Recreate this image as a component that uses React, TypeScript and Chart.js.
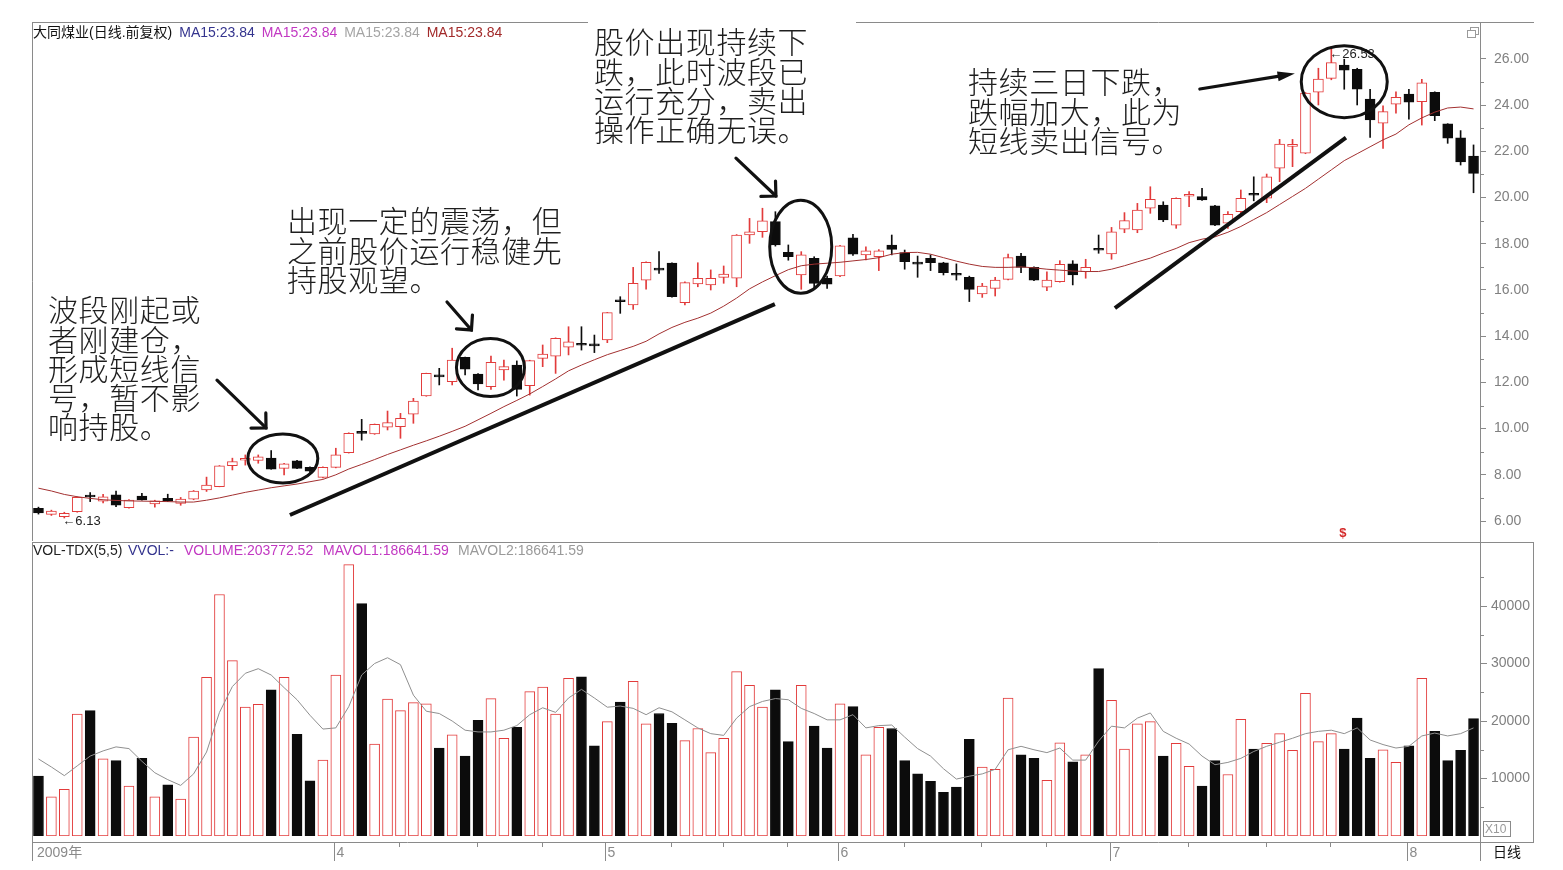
import { useEffect, useRef } from 'react';
import { Chart, registerables } from 'chart.js';

Chart.register(...registerables);

// ---------------- data ----------------
const opens = [6.55, 6.29, 6.19, 6.40, 7.06, 6.86, 7.13, 6.58, 7.08, 6.74,
  6.98, 6.76, 6.94, 7.35, 7.49, 8.40, 8.63, 8.62, 8.72, 8.28,
  8.61, 8.32, 7.89, 8.32, 8.96, 9.81, 9.77, 10.06, 10.08, 10.62,
  11.42, 12.26, 12.03, 13.09, 12.36, 11.82, 12.54, 12.75, 11.86, 13.04,
  13.14, 13.52, 13.63, 13.60, 13.84, 15.51, 15.35, 16.43, 16.88, 17.16,
  15.45, 16.26, 16.22, 16.55, 16.51, 18.38, 18.52, 18.96, 17.63, 16.65,
  17.37, 16.51, 16.61, 18.26, 17.52, 17.44, 17.95, 17.62, 17.14, 17.37,
  17.18, 16.66, 16.55, 15.83, 16.07, 16.46, 17.47, 16.98, 16.12, 16.36,
  17.13, 16.79, 17.74, 17.56, 18.63, 18.60, 19.54, 19.68, 18.81, 20.06,
  20.04, 19.64, 18.89, 19.39, 20.12, 19.97, 21.27, 22.22, 21.92, 24.56,
  25.16, 25.74, 25.55, 24.26, 23.22, 24.04, 24.48, 24.15, 24.56, 23.19,
  22.59, 21.80];
const highs = [6.60, 6.47, 6.38, 7.05, 7.23, 7.15, 7.30, 6.93, 7.20, 6.90,
  7.16, 7.02, 7.32, 7.90, 8.40, 8.72, 8.86, 8.86, 9.05, 8.50,
  8.63, 8.35, 8.35, 9.15, 9.82, 10.40, 10.20, 10.76, 10.66, 11.31,
  12.40, 12.61, 13.48, 13.10, 12.38, 13.14, 12.97, 12.93, 12.96, 13.62,
  13.93, 14.41, 14.41, 14.05, 15.03, 15.71, 16.98, 17.22, 17.66, 17.18,
  16.35, 17.18, 16.87, 17.04, 18.40, 19.10, 19.54, 19.39, 17.95, 17.66,
  17.44, 16.60, 17.93, 18.41, 17.87, 17.75, 18.38, 17.73, 17.47, 17.52,
  17.20, 17.13, 16.60, 16.29, 16.55, 17.56, 17.59, 17.00, 16.79, 17.27,
  17.27, 17.33, 18.38, 18.71, 19.35, 19.75, 20.47, 19.82, 19.99, 20.26,
  20.40, 19.66, 19.39, 20.33, 20.90, 21.02, 22.52, 22.52, 24.55, 25.60,
  26.53, 25.99, 25.60, 24.69, 23.97, 24.58, 24.69, 25.12, 24.58, 23.20,
  22.90, 22.28];
const lows = [6.30, 6.24, 6.13, 6.38, 6.84, 6.78, 6.62, 6.56, 6.90, 6.60,
  6.84, 6.68, 6.92, 7.28, 7.48, 8.21, 8.42, 8.50, 8.24, 8.00,
  8.26, 8.10, 7.87, 8.30, 8.94, 9.50, 9.75, 9.94, 9.58, 10.23,
  11.40, 11.89, 11.89, 12.32, 11.67, 11.70, 12.10, 11.41, 11.45, 12.68,
  12.39, 13.19, 13.40, 13.29, 13.72, 14.99, 15.16, 16.04, 16.72, 15.69,
  15.35, 16.14, 16.00, 16.29, 16.14, 18.02, 18.28, 17.90, 17.29, 16.03,
  16.12, 16.07, 16.58, 17.50, 17.30, 16.84, 17.52, 16.90, 16.55, 16.84,
  16.65, 16.43, 15.50, 15.68, 15.74, 16.44, 16.75, 16.40, 15.97, 16.34,
  16.22, 16.51, 17.59, 17.33, 18.48, 18.48, 19.32, 18.96, 18.67, 19.61,
  19.88, 18.79, 18.67, 19.32, 19.86, 19.78, 20.69, 21.34, 21.90, 24.01,
  25.10, 24.69, 24.01, 22.61, 22.13, 23.65, 23.39, 23.14, 23.33, 22.35,
  21.41, 20.21];
const closes = [6.35, 6.43, 6.33, 7.03, 7.04, 7.05, 6.69, 6.91, 6.91, 6.87,
  6.86, 6.95, 7.30, 7.56, 8.39, 8.57, 8.65, 8.78, 8.24, 8.47,
  8.28, 8.16, 8.32, 8.86, 9.80, 9.79, 10.19, 10.26, 10.44, 11.19,
  12.39, 12.24, 12.97, 12.57, 11.93, 12.87, 12.68, 11.70, 12.94, 13.23,
  13.91, 13.76, 13.61, 13.58, 15.02, 15.49, 16.29, 17.20, 16.86, 15.71,
  16.32, 16.51, 16.51, 16.69, 18.38, 18.52, 18.99, 17.95, 17.44, 17.52,
  16.29, 16.25, 17.91, 17.55, 17.70, 17.70, 17.76, 17.23, 17.12, 17.18,
  16.75, 16.64, 16.03, 16.17, 16.43, 17.40, 16.98, 16.43, 16.43, 17.11,
  16.65, 16.98, 17.72, 18.52, 19.00, 19.46, 19.93, 19.03, 19.97, 20.08,
  19.90, 18.81, 19.28, 19.97, 20.10, 20.90, 22.32, 22.24, 24.52, 25.13,
  25.84, 25.52, 24.69, 23.36, 23.72, 24.34, 24.13, 24.97, 23.55, 22.57,
  21.55, 21.05];
const ma15 = [7.42, 7.30, 7.15, 7.05, 6.98, 6.92, 6.89, 6.87, 6.86, 6.85,
  6.84, 6.82, 6.82, 6.90, 7.00, 7.12, 7.24, 7.34, 7.44, 7.52,
  7.60, 7.70, 7.80, 8.00, 8.25, 8.45, 8.66, 8.88, 9.08, 9.28,
  9.47, 9.67, 9.88, 10.10, 10.38, 10.66, 10.95, 11.22, 11.50, 11.82,
  12.15, 12.50, 12.75, 12.98, 13.20, 13.38, 13.56, 13.78, 14.10, 14.38,
  14.60, 14.78, 15.00, 15.30, 15.65, 16.05, 16.35, 16.62, 16.88, 17.05,
  17.12, 17.16, 17.20, 17.26, 17.32, 17.40, 17.55, 17.62, 17.63, 17.55,
  17.40, 17.25, 17.12, 17.02, 16.98, 16.98, 17.00, 16.96, 16.90, 16.86,
  16.82, 16.80, 16.80, 16.90, 17.05, 17.22, 17.38, 17.60, 17.80, 18.05,
  18.20, 18.30, 18.50, 18.75, 19.05, 19.35, 19.70, 20.05, 20.40, 20.80,
  21.20, 21.60, 21.90, 22.20, 22.50, 22.75, 23.15, 23.45, 23.70, 23.88,
  23.92, 23.84];
const volumes = [10400, 6800, 8100, 21200, 21800, 13400, 13100, 8700, 13500, 6800,
  8900, 6400, 17200, 27600, 42000, 30500, 22400, 22900, 25400, 27600,
  17700, 9600, 13200, 28000, 47200, 40400, 16000, 23800, 21800, 23200,
  23000, 15300, 17600, 13900, 20100, 23900, 17000, 18900, 25100, 25900,
  21200, 27400, 27700, 15700, 19900, 23300, 26900, 19500, 21300, 19600,
  16600, 18700, 14500, 17000, 28600, 26200, 22400, 25400, 16400, 26200,
  19100, 15300, 23000, 22500, 14100, 18900, 18700, 13100, 10800, 9500,
  7600, 8500, 16800, 12000, 11600, 24000, 14100, 13500, 9700, 16200,
  12900, 14100, 29100, 23600, 15100, 19500, 19900, 13900, 16100, 12100,
  8700, 13100, 10700, 20300, 15100, 16100, 17800, 14900, 24800, 16400,
  17800, 15100, 20500, 13500, 15000, 12800, 15700, 27400, 18200, 13100,
  14900, 20400];
const mavol5 = [13400, 12000, 10500, 12200, 13900, 14800, 15500, 15200, 13000, 11000,
  9800, 8800, 10800, 14600, 21500, 26000, 28300, 29100, 28000, 25800,
  23700, 21000, 18600, 18800, 22500, 28000, 30000, 31000, 29800, 24500,
  21700, 21300, 20000, 18400, 18100, 18100, 18400, 19200, 21100, 22300,
  21500, 24000, 25500, 24000, 22400, 22600, 22200, 21100, 22300, 21600,
  20200, 18800, 17800, 17500, 20500, 22500, 23400, 23900, 23700, 22200,
  21300, 20200, 20200, 21100, 18800, 19200, 19300, 17200, 15200, 13900,
  11700, 9900, 10400, 10800, 11600, 15000, 15600, 15000, 14500, 15300,
  13200, 13200, 16500, 19100, 18800, 20500, 21400, 18200, 17000, 16000,
  13900, 12400, 12800, 13500, 14700, 15600, 16300, 17000, 17800, 18200,
  18400, 17800, 18800, 16700, 15900, 15300, 15600, 17400, 17900, 17400,
  17800, 18800];
const dayLabels = opens.map((_, i) => `第${i + 1}日`);
const priceTickValues = [6, 7, 8, 9, 10, 11, 12, 13, 14, 15, 16, 17, 18, 19, 20, 21, 22, 23, 24, 25, 26];
const volTickValues = [5000, 10000, 15000, 20000, 25000, 30000, 35000, 40000, 45000];
const monthStartIndex = [0, 23, 44, 62, 83, 106];
const monthLabels = ['2009年', '4', '5', '6', '7', '8'];
const weekTickIndex = [28, 34, 39, 49, 53, 58, 67, 73, 78, 89, 95, 100];
const priceHeaderTexts = ['大同煤业(日线.前复权)', 'MA15:23.84', 'MA15:23.84', 'MA15:23.84', 'MA15:23.84'];
const volHeaderTexts = ['VOL-TDX(5,5)', 'VVOL:-', 'VOLUME:203772.52', 'MAVOL1:186641.59', 'MAVOL2:186641.59'];
const noteTexts = [
  ['波段刚起或', '者刚建仓，', '形成短线信', '号，暂不影', '响持股。'],
  ['出现一定的震荡，但', '之前股价运行稳健先', '持股观望。'],
  ['股价出现持续下', '跌，此时波段已', '运行充分，卖出', '操作正确无误。'],
  ['持续三日下跌，', '跌幅加大，此为', '短线卖出信号。'],
];
const extremeLabels = [{ index: 2, value: 6.13, text: '←6.13' }, { index: 100, value: 26.53, text: '←26.53' }];

// annotations anchored in data space (bar index, price)
const circleMarks = [
  { i: 18.9, p: 8.71, rx: 35, ry: 24.5 },
  { i: 34.96, p: 12.64, rx: 34, ry: 29 },
  { i: 58.96, p: 17.87, rx: 31, ry: 46.5 },
  { i: 101.0, p: 25.02, rx: 43, ry: 36 },
];
const arrowMarks = [
  { i1: 13.81, p1: 12.10, i2: 17.60, p2: 10.03, filled: false },
  { i1: 31.60, p1: 15.48, i2: 33.49, p2: 14.27, filled: false },
  { i1: 53.95, p1: 21.71, i2: 57.04, p2: 20.07, filled: false },
  { i1: 89.83, p1: 24.70, i2: 97.18, p2: 25.37, filled: true },
];
const trendLines = [
  { i1: 19.45, p1: 6.26, i2: 56.96, p2: 15.39 },
  { i1: 83.26, p1: 15.22, i2: 101.13, p2: 22.60 },
];

// ---------------- styles / layout ----------------
const RED = '#e23b3b';
const BLACK = '#0c0c0c';
const AXIS = '#8a8a8a';
const MA_COLOR = '#a23030';
const LATIN = '"Liberation Sans", Arial, "Noto Sans CJK SC", sans-serif';
const CJK = '"Noto Sans CJK SC", "Noto Sans", sans-serif';
const priceHeaderColors = ['#111111', '#34348e', '#c238c2', '#a5a5a5', '#a22a2a'];
const volHeaderColors = ['#222222', '#34348e', '#c238c2', '#c238c2', '#9a9a9a'];
const volHeaderX = [33, 128, 184, 323, 458];
const notePos = [{ x: 48, y: 310 }, { x: 287, y: 221 }, { x: 594, y: 42 }, { x: 968, y: 82 }];
const NOTE_LH = 29.2;
const VOL_CANVAS_TOP = 520;

const isUp = (i: number) => closes[i] >= opens[i];

function line(ctx: CanvasRenderingContext2D, x1: number, y1: number, x2: number, y2: number) {
  ctx.beginPath();
  ctx.moveTo(x1, y1);
  ctx.lineTo(x2, y2);
  ctx.stroke();
}

function drawArrow(ctx: CanvasRenderingContext2D, x1: number, y1: number, x2: number, y2: number, filled: boolean) {
  ctx.lineWidth = 3.2;
  ctx.lineCap = 'round';
  const ang = Math.atan2(y2 - y1, x2 - x1);
  if (filled) {
    const L = 18;
    const a = 0.28;
    line(ctx, x1, y1, x2 - Math.cos(ang) * 8, y2 - Math.sin(ang) * 8);
    ctx.beginPath();
    ctx.moveTo(x2, y2);
    ctx.lineTo(x2 - L * Math.cos(ang - a), y2 - L * Math.sin(ang - a));
    ctx.lineTo(x2 - L * Math.cos(ang + a), y2 - L * Math.sin(ang + a));
    ctx.closePath();
    ctx.fill();
  } else {
    line(ctx, x1, y1, x2, y2);
    const L = 15;
    const a = Math.PI / 4;
    ctx.beginPath();
    ctx.moveTo(x2 - L * Math.cos(ang - a), y2 - L * Math.sin(ang - a));
    ctx.lineTo(x2, y2);
    ctx.lineTo(x2 - L * Math.cos(ang + a), y2 - L * Math.sin(ang + a));
    ctx.stroke();
  }
}

const pricePlugin = {
  id: 'priceDecor',
  afterDraw(chart: any) {
    const ctx: CanvasRenderingContext2D = chart.ctx;
    const xs = chart.scales.x;
    const ys = chart.scales.y;
    const px = (i: number) => xs.getPixelForValue(i);
    const py = (v: number) => ys.getPixelForValue(v);
    const area = chart.chartArea;
    ctx.save();
    // frame
    ctx.strokeStyle = AXIS;
    ctx.lineWidth = 1;
    line(ctx, area.left + 0.5, area.bottom, area.left + 0.5, area.top + 0.5);
    line(ctx, area.left, area.top + 0.5, 1534, area.top + 0.5);
    // minor ticks
    priceTickValues.filter((v) => v % 2 !== 0).forEach((v) => {
      const yy = Math.round(py(v)) + 0.5;
      line(ctx, area.right, yy, area.right + 4, yy);
    });
    // window icon
    ctx.strokeStyle = '#9a9a9a';
    ctx.strokeRect(1470.5, 27.5, 8, 7);
    ctx.fillStyle = '#fff';
    ctx.fillRect(1468, 31, 7, 6);
    ctx.strokeRect(1467.5, 30.5, 8, 7);

    // header
    ctx.textBaseline = 'middle';
    ctx.font = `14px ${LATIN}`;
    let hx = 33;
    priceHeaderTexts.forEach((t, k) => {
      ctx.fillStyle = priceHeaderColors[k];
      ctx.fillText(t, hx, 33);
      hx += ctx.measureText(t).width + 7;
    });

    // extreme labels
    ctx.font = `13px ${LATIN}`;
    ctx.fillStyle = '#222';
    extremeLabels.forEach((e) => {
      ctx.fillText(e.text, px(e.index) - 2, e.index === 2 ? py(e.value) + 3 : py(e.value) + 8);
    });
    // red marker
    ctx.fillStyle = '#d42a2a';
    ctx.font = `bold 13px ${LATIN}`;
    ctx.fillText('$', px(100) + 8, 533);

    // white box behind the third note (covers the frame line)
    ctx.fillStyle = '#fff';
    ctx.fillRect(588, 14, 268, 136);

    // notes
    ctx.fillStyle = '#1e1e1e';
    ctx.font = `300 30px ${CJK}`;
    (ctx as any).letterSpacing = '0.6px';
    noteTexts.forEach((lines, k) => {
      lines.forEach((t, j) => ctx.fillText(t, notePos[k].x, notePos[k].y + j * NOTE_LH));
    });
    (ctx as any).letterSpacing = '0px';

    // circles
    ctx.strokeStyle = '#111';
    ctx.fillStyle = '#111';
    ctx.lineWidth = 3;
    circleMarks.forEach((c) => {
      ctx.beginPath();
      ctx.ellipse(px(c.i), py(c.p), c.rx, c.ry, 0, 0, Math.PI * 2);
      ctx.stroke();
    });
    // arrows
    arrowMarks.forEach((a) => drawArrow(ctx, px(a.i1), py(a.p1), px(a.i2), py(a.p2), a.filled));
    // trend lines
    ctx.lineWidth = 4;
    ctx.lineCap = 'butt';
    trendLines.forEach((l) => line(ctx, px(l.i1), py(l.p1), px(l.i2), py(l.p2)));
    ctx.restore();
  },
};

const volPlugin = {
  id: 'volDecor',
  afterDraw(chart: any) {
    const ctx: CanvasRenderingContext2D = chart.ctx;
    const xs = chart.scales.x;
    const ys = chart.scales.y;
    const area = chart.chartArea;
    const py = (pageY: number) => pageY - VOL_CANVAS_TOP;
    ctx.save();
    ctx.strokeStyle = AXIS;
    ctx.lineWidth = 1;
    // separator / frame
    line(ctx, area.left, area.top + 0.5, 1534, area.top + 0.5);
    line(ctx, area.left + 0.5, area.top, area.left + 0.5, py(861));
    line(ctx, area.left, py(842.5), 1534, py(842.5));
    line(ctx, 1533.5, area.top, 1533.5, py(843));
    line(ctx, area.right + 0.5, area.bottom, area.right + 0.5, py(861));
    // minor ticks
    volTickValues.filter((v) => v % 10000 !== 0).forEach((v) => {
      const yy = Math.round(ys.getPixelForValue(v)) + 0.5;
      line(ctx, area.right, yy, area.right + 4, yy);
    });
    // X10 box
    ctx.strokeRect(1483.5, py(821.5), 27, 15);
    ctx.fillStyle = '#9a9a9a';
    ctx.font = `12px ${LATIN}`;
    ctx.textBaseline = 'middle';
    ctx.fillText('X10', 1485, py(829.5));

    // month separators, week ticks and labels
    ctx.font = `14px ${LATIN}`;
    ctx.fillStyle = '#8a8a8a';
    monthStartIndex.forEach((idx, k) => {
      const xx = k === 0 ? area.left + 0.5 : Math.round(xs.getPixelForValue(idx)) - 1.5;
      if (k > 0) line(ctx, xx, py(842), xx, py(861));
      ctx.fillText(monthLabels[k], k === 0 ? 37 : xx + 2, py(853));
    });
    weekTickIndex.forEach((idx) => {
      const xx = Math.round(xs.getPixelForValue(idx)) - 0.5;
      line(ctx, xx, py(842), xx, py(847));
    });
    ctx.fillStyle = '#111';
    ctx.fillText('日线', 1493, py(853));

    // header
    volHeaderTexts.forEach((t, k) => {
      ctx.fillStyle = volHeaderColors[k];
      ctx.fillText(t, volHeaderX[k], py(551));
    });
    ctx.restore();
  },
};

export default function App() {
  const priceRef = useRef<HTMLCanvasElement>(null);
  const volRef = useRef<HTMLCanvasElement>(null);

  useEffect(() => {
    Chart.defaults.font.family = LATIN;
    const upColors = opens.map((_, i) => (isUp(i) ? RED : BLACK));
    const fillColors = opens.map((_, i) => (isUp(i) ? '#ffffff' : BLACK));

    const priceChart = new Chart(priceRef.current as HTMLCanvasElement, {
      type: 'bar',
      data: {
        labels: dayLabels,
        datasets: [
          {
            type: 'line',
            label: 'MA15',
            data: ma15,
            borderColor: MA_COLOR,
            borderWidth: 1,
            pointRadius: 0,
            tension: 0,
            order: 0,
          } as any,
          {
            type: 'bar',
            label: '实体',
            data: opens.map((o, i) => [o, closes[i]]),
            backgroundColor: fillColors,
            borderColor: upColors,
            borderWidth: 1,
            borderSkipped: false,
            barThickness: 10,
            minBarLength: 2,
            grouped: false,
            order: 1,
          } as any,
          {
            type: 'bar',
            label: '影线',
            data: lows.map((l, i) => [l, highs[i]]),
            backgroundColor: upColors,
            borderWidth: 0,
            barThickness: 1,
            grouped: false,
            order: 2,
          } as any,
        ],
      },
      options: {
        animation: false,
        responsive: false,
        maintainAspectRatio: false,
        layout: { padding: { left: 32, top: 22, right: 30, bottom: 21 } },
        plugins: { legend: { display: false }, tooltip: { enabled: false } },
        scales: {
          x: { display: false, offset: true, grid: { display: false } },
          y: {
            position: 'right',
            min: 6 - 20 / 23.1,
            max: 26 + 37 / 23.1,
            afterBuildTicks: (s: any) => {
              s.ticks = priceTickValues.map((v) => ({ value: v }));
            },
            afterFit: (s: any) => {
              s.width = 53;
            },
            ticks: {
              autoSkip: false,
              color: '#808080',
              padding: 8,
              font: { size: 14, family: LATIN },
              callback: (v: any) => (Number(v) % 2 === 0 ? Number(v).toFixed(2) : ''),
            },
            grid: {
              drawOnChartArea: false,
              tickLength: 6,
              color: AXIS,
              tickColor: (c: any) => (c.tick && c.tick.value % 2 === 0 ? AXIS : 'rgba(0,0,0,0)'),
            },
            border: { display: true, color: AXIS, width: 1 },
          } as any,
        },
      },
      plugins: [pricePlugin],
    } as any);

    const volChart = new Chart(volRef.current as HTMLCanvasElement, {
      type: 'bar',
      data: {
        labels: dayLabels,
        datasets: [
          {
            type: 'line',
            label: 'MAVOL',
            data: mavol5,
            borderColor: '#8f8f8f',
            borderWidth: 1,
            pointRadius: 0,
            tension: 0,
            order: 0,
          } as any,
          {
            type: 'bar',
            label: 'VOLUME',
            data: volumes,
            backgroundColor: fillColors,
            borderColor: upColors,
            borderWidth: 1,
            borderSkipped: false,
            barThickness: 10,
            order: 1,
          } as any,
        ],
      },
      options: {
        animation: false,
        responsive: false,
        maintainAspectRatio: false,
        layout: { padding: { left: 32, top: 22, right: 30, bottom: 34 } },
        plugins: { legend: { display: false }, tooltip: { enabled: false } },
        scales: {
          x: { display: false, offset: true, grid: { display: false } },
          y: {
            position: 'right',
            min: 0,
            max: ((836 - 542) / 57.5) * 10000,
            afterBuildTicks: (s: any) => {
              s.ticks = volTickValues.map((v) => ({ value: v }));
            },
            afterFit: (s: any) => {
              s.width = 53;
            },
            ticks: {
              autoSkip: false,
              color: '#808080',
              padding: 4,
              font: { size: 14, family: LATIN },
              callback: (v: any) => (Number(v) % 10000 === 0 ? String(v) : ''),
            },
            grid: {
              drawOnChartArea: false,
              tickLength: 7,
              color: AXIS,
              tickColor: (c: any) => (c.tick && c.tick.value % 10000 === 0 ? AXIS : 'rgba(0,0,0,0)'),
            },
            border: { display: true, color: AXIS, width: 1 },
          } as any,
        },
      },
      plugins: [volPlugin],
    } as any);

    return () => {
      priceChart.destroy();
      volChart.destroy();
    };
  }, []);

  return (
    <div style={{ position: 'absolute', left: 0, top: 0, width: 1563, height: 870, background: '#fff', overflow: 'hidden' }}>
      <canvas ref={volRef} width={1563} height={350} style={{ position: 'absolute', left: 0, top: VOL_CANVAS_TOP }} />
      <canvas ref={priceRef} width={1563} height={562} style={{ position: 'absolute', left: 0, top: 0 }} />
    </div>
  );
}
